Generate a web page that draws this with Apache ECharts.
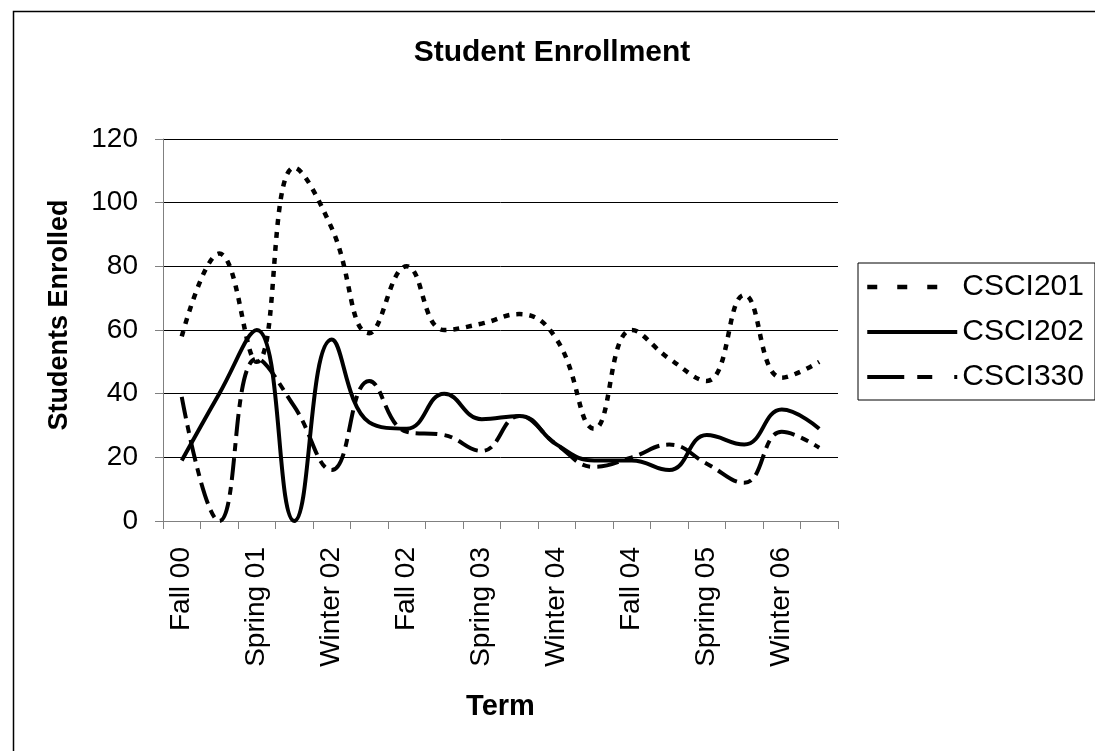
<!DOCTYPE html>
<html>
<head>
<meta charset="utf-8">
<script src="https://cdn.jsdelivr.net/npm/echarts@6/dist/echarts.min.js"></script>
<style>
html,body{margin:0;padding:0;background:#fff;}
#chart{width:1095px;height:751px;}
</style>
</head>
<body>
<div id="chart"></div>
<script>
const terms = ["Fall 00","Winter 01","Spring 01","Fall 01","Winter 02","Spring 02","Fall 02","Winter 03","Spring 03","Fall 03","Winter 04","Spring 04","Fall 04","Winter 05","Spring 05","Fall 05","Winter 06","Spring 06"];
const csci201 = [58, 84, 50, 111, 92, 59, 80, 60, 62, 65, 57, 29, 60, 51, 44, 71, 45, 50];
const csci202 = [19, 40, 60, 0, 57, 31, 29, 40, 32, 33, 24, 19, 19, 16, 27, 24, 35, 29];
const csci330 = [39, 0, 51, 36, 16, 44, 28, 27, 22, 33, 24, 17, 20, 24, 18, 12, 28, 23];
const yTicks = [0, 20, 40, 60, 80, 100, 120];

const FONT = "'Liberation Sans', Arial, sans-serif";
const chart = echarts.init(document.getElementById('chart'), null, {renderer: 'canvas'});

function mkSeries(name, data, type, width) {
  return {
    name: name, type: 'line', data: data, smooth: 0.45, symbol: 'none',
    lineStyle: {color: '#000', width: width, type: type, cap: 'butt'},
    itemStyle: {color: '#000'},
    emphasis: {disabled: true}
  };
}

chart.setOption({
  animation: false,
  backgroundColor: '#fff',
  textStyle: {fontFamily: FONT, color: '#000'},
  graphic: [{
    type: 'rect', left: 11, top: 9,
    shape: {x: 0, y: 0, width: 1100, height: 760},
    style: {fill: 'none', stroke: '#000', lineWidth: 1.5},
    silent: true
  }],
  title: {
    text: 'Student Enrollment', left: 552, top: 38, textAlign: 'center', padding: 0,
    textStyle: {fontFamily: FONT, fontSize: 30, fontWeight: 'bold', color: '#000'}
  },
  legend: {
    orient: 'vertical', left: 858, top: 263,
    padding: [9, 11, 8, 7],
    itemWidth: 90, itemHeight: 14, itemGap: 15,
    borderColor: '#000', borderWidth: 1,
    itemStyle: {opacity: 0},
    textStyle: {fontFamily: FONT, fontSize: 30, color: '#000', lineHeight: 30},
    data: [
      {name: 'CSCI201', lineStyle: {type: [10, 20], width: 4.5, cap: 'butt'}},
      {name: 'CSCI202', lineStyle: {type: 'solid', width: 4, cap: 'butt'}},
      {name: 'CSCI330', lineStyle: {type: [37, 13, 15, 22, 3, 30], width: 4, cap: 'butt'}}
    ]
  },
  grid: {left: 163, right: 257, top: 139, bottom: 230, containLabel: false},
  xAxis: {
    type: 'category', data: terms, boundaryGap: true,
    name: 'Term', nameLocation: 'middle', nameGap: 171,
    nameTextStyle: {fontFamily: FONT, fontSize: 29, fontWeight: 'bold', color: '#000'},
    axisLine: {show: true, lineStyle: {color: '#808080', width: 1}},
    axisTick: {show: true, interval: 0, length: 8, lineStyle: {color: '#808080'}},
    axisLabel: {interval: 1, rotate: 90, margin: 26, fontFamily: FONT, fontSize: 28, color: '#000'},
    splitLine: {show: false}
  },
  yAxis: {
    type: 'value', min: 0, max: 120, interval: 20,
    name: 'Students Enrolled', nameLocation: 'middle', nameGap: 90,
    nameTextStyle: {fontFamily: FONT, fontSize: 27, fontWeight: 'bold', color: '#000', padding: [0, 0, 0, 30]},
    axisLine: {show: true, lineStyle: {color: '#808080', width: 1}},
    axisTick: {show: true, length: 8, lineStyle: {color: '#808080'}},
    axisLabel: {margin: 25, fontFamily: FONT, fontSize: 28, color: '#000',
      formatter: function (v) { return yTicks.indexOf(v) >= 0 ? String(v) : ''; }},
    splitLine: {show: true, lineStyle: {color: '#000', width: 1}}
  },
  series: [
    mkSeries('CSCI201', csci201, [6, 7], 4.5),
    mkSeries('CSCI202', csci202, 'solid', 4),
    mkSeries('CSCI330', csci330, [22, 7, 8, 7], 4)
  ]
});
</script>
</body>
</html>
